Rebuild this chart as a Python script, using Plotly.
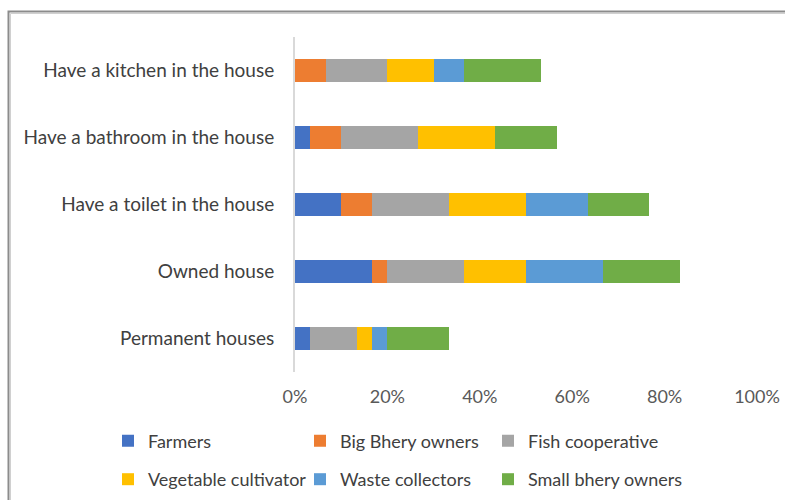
import plotly.graph_objects as go

# Share of households (%) in each group for each housing condition
categories = [
    "Have a kitchen in the house",
    "Have a bathroom in the house",
    "Have a toilet in the house",
    "Owned house",
    "Permanent houses",
]
series_names = [
    "Farmers",
    "Big Bhery owners",
    "Fish cooperative",
    "Vegetable cultivator",
    "Waste collectors",
    "Small bhery owners",
]
farmers = [0.0, 3.33, 10.0, 16.67, 3.33]
big_bhery_owners = [6.67, 6.67, 6.67, 3.33, 0.0]
fish_cooperative = [13.33, 16.67, 16.67, 16.67, 10.0]
vegetable_cultivator = [10.0, 16.67, 16.67, 13.33, 3.33]
waste_collectors = [6.67, 0.0, 13.33, 16.67, 3.33]
small_bhery_owners = [16.67, 13.33, 13.33, 16.67, 13.33]
x_ticks = [0, 20, 40, 60, 80, 100]
x_tick_labels = ["0%", "20%", "40%", "60%", "80%", "100%"]

series_values = [
    farmers,
    big_bhery_owners,
    fish_cooperative,
    vegetable_cultivator,
    waste_collectors,
    small_bhery_owners,
]
colors = ["#4472C4", "#ED7D31", "#A5A5A5", "#FFC000", "#5B9BD5", "#70AD47"]

FONT = "Lato"
W, H = 785, 500
L, R, T, B = 295, 28, 37, 128

fig = go.Figure()
legend_ids = ["legend", "legend2", "legend3", "legend4", "legend5", "legend6"]
for name, vals, col, lid in zip(series_names, series_values, colors, legend_ids):
    fig.add_trace(go.Bar(
        y=categories, x=vals, name=name, orientation="h",
        marker=dict(color=col, line=dict(width=0)),
        legend=lid, showlegend=True,
        hovertemplate="%{y}<br>" + name + ": %{x:.1f}%<extra></extra>",
    ))

# one legend box per entry, laid out in two rows of three
legend_pos = [(122, 441), (314, 441), (502, 441),
              (122, 479.5), (314, 479.5), (502, 479.5)]
legend_layout = {}
for lid, (lx, ly) in zip(legend_ids, legend_pos):
    legend_layout[lid] = dict(
        xref="container", yref="container",
        x=(lx - 14) / W, y=1 - ly / H,
        xanchor="left", yanchor="middle",
        orientation="h", bgcolor="rgba(0,0,0,0)",
        font=dict(family=FONT, size=18, color="#404040"),
        itemclick=False, itemdoubleclick=False,
    )

pw = W - L - R
ph = H - T - B
def px_x(v):
    return (v - L) / pw
def px_y(v):
    return (H - B - v) / ph

fig.update_layout(
    width=W, height=H,
    margin=dict(l=L, r=R, t=T, b=B, autoexpand=False),
    showlegend=True,
    barmode="stack", bargap=0.65,
    paper_bgcolor="white", plot_bgcolor="white",
    font=dict(family=FONT, size=18, color="#404040"),
    xaxis=dict(
        range=[0, 100], tickmode="array", tickvals=x_ticks, ticktext=x_tick_labels,
        showgrid=False, zeroline=False, showline=False,
        ticks="outside", ticklen=8, tickcolor="white",
        tickfont=dict(family=FONT, size=18, color="#595959"),
        fixedrange=True,
    ),
    yaxis=dict(
        categoryorder="array", categoryarray=categories[::-1],
        showgrid=False, zeroline=False,
        showline=True, linecolor="#D9D9D9", linewidth=2,
        ticks="", ticklabelstandoff=15,
        tickfont=dict(family=FONT, size=19, color="#404040"),
        fixedrange=True,
    ),
    shapes=[
        dict(type="rect", xref="paper", yref="paper", layer="above",
             x0=px_x(8.5), x1=px_x(W + 20), y0=px_y(H + 20), y1=px_y(11.5),
             line=dict(color="#8C8C8C", width=2), fillcolor="rgba(0,0,0,0)"),
        dict(type="rect", xref="paper", yref="paper", layer="above",
             x0=px_x(10.5), x1=px_x(W + 20), y0=px_y(H + 20), y1=px_y(13.5),
             line=dict(color="#D0D0D0", width=1), fillcolor="rgba(0,0,0,0)"),
    ],
    **legend_layout,
)

fig.write_html("out.html")
